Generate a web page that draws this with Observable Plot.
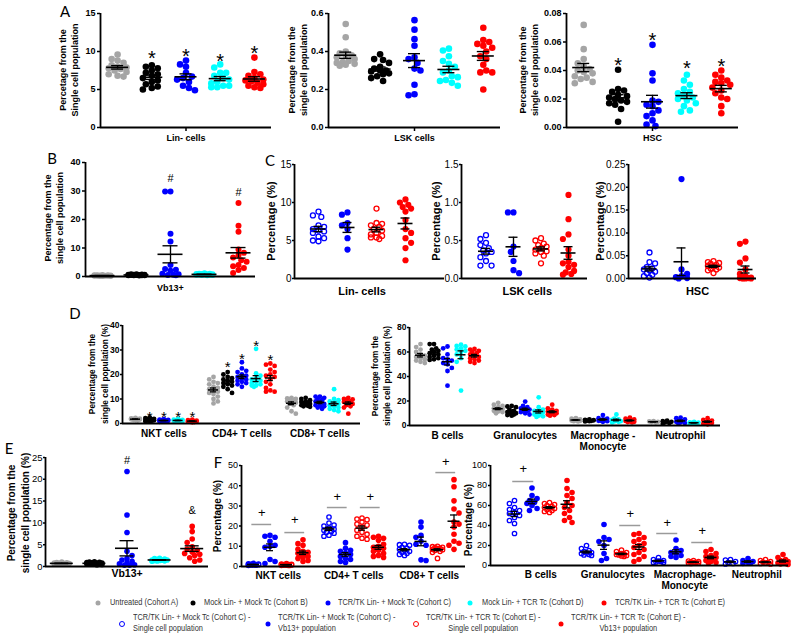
<!DOCTYPE html>
<html>
<head>
<meta charset="utf-8">
<script src="https://cdn.jsdelivr.net/npm/d3@7"></script>
<script src="https://cdn.jsdelivr.net/npm/@observablehq/plot@0.6"></script>
<style>
  html, body { margin: 0; padding: 0; background: #fff; }
  #page { position: relative; width: 800px; height: 634px; overflow: hidden; background: #fff; font-family: 'Liberation Sans', Arial, sans-serif; }
  .letter { position: absolute; font: 15px Lato, 'Open Sans', sans-serif; transform: translate(-50%, -50%); }
  .vlab { position: absolute; transform: translate(-50%, -50%) rotate(-90deg); white-space: pre; text-align: center; font-weight: bold; font-family: 'Liberation Sans', Arial, sans-serif; }
  .leg { position: absolute; font-family: 'Liberation Sans', Arial, sans-serif; font-size: 8.5px; white-space: pre; line-height: 11px; color: #333; transform: scaleX(0.87); transform-origin: 0 0; }
  .mk { position: absolute; width: 5px; height: 5px; border-radius: 50%; transform: translate(-50%, -50%); box-sizing: border-box; }
</style>
</head>
<body>
<div id="page"></div>
<script>
// ---------- legend / categories ----------
const cohortNames = ["Untreated (Cohort A)", "Mock Lin- + Mock Tc (Cohort B)", "TCR/TK Lin- + Mock Tc (Cohort C)", "Mock Lin- + TCR Tc (Cohort D)", "TCR/TK Lin- + TCR Tc (Cohort E)"];
const cohortColors = ["#a5a5a5", "#000000", "#0000ff", "#00ffff", "#ff0000"];
const subsetNames = ["TCR/TK Lin- + Mock Tc (Cohort C) -\nSingle cell population", "TCR/TK Lin- + Mock Tc (Cohort C) -\nVb13+ population", "TCR/TK Lin- + TCR Tc (Cohort E) -\nSingle cell population", "TCR/TK Lin- + TCR Tc (Cohort E) -\nVb13+ population"];
const subsetColors = ["#0000ff", "#0000ff", "#ff0000", "#ff0000"];
const subsetFilled = [false, true, false, true];

// ---------- Panel A ----------
const aLin = [
  [9.6, 9.0, 8.8, 8.5, 8.2, 8.0, 7.9, 7.8, 7.7, 7.5, 7.3, 7.0, 6.8, 6.7],
  [8.2, 8.0, 7.8, 7.5, 7.2, 7.0, 6.8, 6.5, 6.2, 6.0, 5.7, 5.4, 5.2, 5.0],
  [8.8, 8.3, 8.0, 7.2, 6.7, 6.5, 6.3, 6.0, 5.5, 5.2, 4.9],
  [8.3, 7.9, 7.2, 7.2, 6.8, 6.5, 6.3, 6.0, 5.8, 5.5, 5.3, 5.3, 5.5],
  [9.2, 7.3, 7.0, 6.8, 6.5, 6.3, 6.1, 5.9, 5.7, 5.5, 5.3, 5.2, 6.2]
];
const aLinStarY = [NaN, 9.7, 10.0, 9.3, 10.35];
const aLSK = [
  [0.545, 0.475, 0.40, 0.39, 0.38, 0.37, 0.36, 0.35, 0.345, 0.34, 0.335, 0.33, 0.325, 0.38],
  [0.385, 0.36, 0.355, 0.34, 0.32, 0.31, 0.30, 0.295, 0.285, 0.28, 0.27, 0.26, 0.245, 0.30],
  [0.565, 0.515, 0.465, 0.43, 0.37, 0.36, 0.34, 0.31, 0.30, 0.225, 0.175, 0.17],
  [0.415, 0.405, 0.375, 0.35, 0.335, 0.32, 0.30, 0.29, 0.27, 0.265, 0.25, 0.245, 0.235, 0.22],
  [0.525, 0.46, 0.45, 0.44, 0.43, 0.42, 0.40, 0.375, 0.36, 0.33, 0.30, 0.29, 0.29, 0.20]
];
const aHSC = [
  [0.072, 0.055, 0.048, 0.045, 0.043, 0.041, 0.040, 0.039, 0.038, 0.036, 0.035, 0.034, 0.032, 0.031],
  [0.0405, 0.027, 0.026, 0.025, 0.023, 0.022, 0.021, 0.020, 0.019, 0.018, 0.017, 0.016, 0.013, 0.004],
  [0.058, 0.038, 0.033, 0.019, 0.018, 0.016, 0.015, 0.012, 0.010, 0.008, 0.005, 0.002, 0.001],
  [0.037, 0.033, 0.030, 0.027, 0.025, 0.024, 0.022, 0.021, 0.020, 0.019, 0.017, 0.015, 0.012, 0.011],
  [0.040, 0.037, 0.035, 0.033, 0.032, 0.031, 0.030, 0.028, 0.026, 0.024, 0.021, 0.020, 0.015, 0.010]
];
const aHSCStarY = [NaN, 0.047, 0.0646, 0.0447, 0.0465];

// ---------- Panel B ----------
const bVb = [
  [0.5, 0.45, 0.4, 0.4, 0.35, 0.35, 0.3, 0.3, 0.3, 0.25, 0.25, 0.2, 0.2, 0.15],
  [0.8, 0.75, 0.7, 0.65, 0.6, 0.6, 0.55, 0.5, 0.5, 0.45, 0.45, 0.4, 0.4, 0.35],
  [29.8, 29.8, 15, 12.3, 4, 2.6, 2.4, 2.0, 1.0, 0.8, 0.6, 0.5, 0.4],
  [1.1, 1.0, 0.95, 0.9, 0.85, 0.8, 0.75, 0.7, 0.7, 0.65, 0.6, 0.55, 0.5, 0.45],
  [25.8, 17.8, 15.7, 9.5, 8.3, 7.5, 6.7, 5.7, 5.2, 4.0, 3.6, 3.0, 2.3, 1.2]
];
const bHashY = [NaN, NaN, 34.3, NaN, 29.6];

// ---------- Panel C ----------
const cLin = [
  [8.8, 8.3, 8.1, 7.0, 6.8, 6.5, 6.3, 6.2, 6.0, 5.5, 5.3, 5.0, 4.9],
  [8.7, 8.4, 7.3, 7.0, 6.5, 5.3, 3.8],
  [9.2, 7.3, 7.2, 7.0, 6.8, 6.5, 6.3, 6.0, 5.8, 5.6, 5.4, 5.2, 5.4],
  [10.4, 10.0, 9.7, 9.4, 9.2, 8.8, 7.7, 6.5, 6.0, 5.3, 4.7, 4.0, 2.4]
];
const cLSK = [
  [0.57, 0.52, 0.47, 0.44, 0.40, 0.37, 0.35, 0.33, 0.28, 0.23, 0.17, 0.17],
  [0.87, 0.87, 0.42, 0.35, 0.23, 0.11, 0.07],
  [0.53, 0.50, 0.46, 0.44, 0.42, 0.40, 0.38, 0.36, 0.35, 0.33, 0.30, 0.20],
  [1.10, 0.78, 0.58, 0.52, 0.38, 0.30, 0.22, 0.20, 0.18, 0.15, 0.10, 0.08, 0.06, 0.05]
];
const cHSC = [
  [0.057, 0.036, 0.033, 0.025, 0.022, 0.020, 0.018, 0.015, 0.012, 0.008, 0.005, 0.002],
  [0.218, 0.020, 0.010, 0.005, 0.003, 0.001, 0.000],
  [0.038, 0.036, 0.034, 0.032, 0.030, 0.028, 0.026, 0.024, 0.022, 0.020, 0.018, 0.012],
  [0.081, 0.076, 0.044, 0.035, 0.020, 0.010, 0.005, 0.002, 0.001, 0.001, 0.001, 0.000, 0.000, 0.000]
];

// ---------- Panel D ----------
const dNKT = [
  [2.3, 2.1, 2.0, 1.9, 1.8, 1.8, 1.7, 1.6, 1.5, 1.4, 1.3],
  [2.5, 2.2, 1.9, 1.7, 1.6, 1.5, 1.4, 1.3, 1.2, 1.1, 1.0, 0.8],
  [1.8, 1.6, 1.5, 1.4, 1.3, 1.2, 1.2, 1.1, 1.0, 0.9, 0.8, 0.7],
  [1.9, 1.6, 1.5, 1.4, 1.3, 1.2, 1.1, 1.0, 1.0, 0.9, 0.8],
  [1.6, 1.4, 1.2, 1.1, 1.0, 0.9, 0.9, 0.8, 0.7, 0.6, 0.5]
];
const dCD4 = [
  [19, 18, 17, 16.5, 16, 15, 14.5, 14, 13.5, 13, 12.5, 12, 11, 10, 9, 8.2],
  [21, 20, 19, 18.5, 18, 17.5, 17, 16.5, 16, 15.5, 15, 14, 12.5],
  [25, 22.5, 21.5, 21, 20, 19.5, 19, 18.5, 18, 17.5, 17, 16.5, 16, 15],
  [30.5, 20.5, 19.5, 18.5, 18, 17.5, 17, 16.5, 16, 15.5, 15.5, 15],
  [24.5, 24, 23.5, 22, 21, 20, 19.5, 19, 18, 17, 16, 14.5, 13.5, 13, 13]
];
const dCD8 = [
  [10.5, 10.2, 10, 9.8, 9.5, 9, 8.8, 8.5, 8, 7.5, 6.5, 5, 4],
  [10.5, 10, 9.5, 9, 8.8, 8.5, 8.3, 8, 7.8, 7.5, 7.2, 7, 6.8],
  [11, 11, 10.5, 10, 9.5, 9, 8.5, 8, 7.5, 7.2, 7, 6.5, 6],
  [14, 10, 9.5, 9, 8.5, 8, 7.5, 7, 6.5, 6, 5.5, 5],
  [10.5, 10, 9.8, 9.5, 9, 8.8, 8.5, 8, 7.5, 7, 6.5, 4]
];
const dNKTStarY = [NaN, 4, 4, 4, 4];
const dCD4StarY = [NaN, 24.5, 27.9, 33, 27.3];
const dB = [
  [66.5, 64, 62, 60, 58, 57, 56, 55, 54, 53, 52, 51],
  [66.5, 66.5, 63, 62, 61, 60, 59, 58, 57, 56, 55, 54, 53.5],
  [64.5, 63, 58, 55, 54, 53, 51, 50, 47, 44.5, 32.5],
  [66, 65, 64.5, 63, 62, 61, 60, 58, 55, 52, 28.5],
  [62.5, 62, 61, 60, 59, 58, 57, 56, 55, 54, 53, 52, 51]
];
const dGran = [
  [18.5, 17, 16, 15, 14, 13.5, 13, 12.5, 12, 11.5, 11, 10],
  [16, 15.5, 15, 13, 12, 11, 10.5, 10, 9.5, 9, 8.5, 8],
  [19.5, 16, 15, 14, 13.5, 13, 12.5, 12, 11, 10, 9],
  [23, 15, 13, 12, 11.5, 11, 10.5, 10, 9, 8, 7.5, 7],
  [17, 14, 13, 12, 11.5, 11, 10.5, 10, 9.5, 9, 8.5, 8]
];
const dMac = [
  [6, 5.5, 5, 4.8, 4.5, 4.3, 4, 3.8, 3.5, 3.3],
  [5, 4.6, 4.3, 4, 3.8, 3.5, 3.3],
  [8.5, 6, 5.5, 5, 4.5, 4, 3.8, 3.5, 3],
  [9, 5.5, 5, 4.5, 4, 3.5, 3.3, 3, 2.5],
  [6.5, 5.5, 5, 4.5, 4, 3.7, 3.4, 3, 2.8, 2.5]
];
const dNeut = [
  [3.5, 3.3, 3, 2.8, 2.6],
  [4, 3.5, 3, 2.5, 2, 1.5],
  [6.5, 6, 5, 4, 3.5, 3, 2.5, 2, 1.5],
  [3, 2.6, 2.4, 2.2, 2, 1.8, 1.5],
  [6, 4.5, 4, 3.5, 3, 2.5, 2, 1.5, 1]
];

// ---------- Panel E ----------
const eVb = [
  [1.0, 0.9, 0.85, 0.8, 0.75, 0.7, 0.7, 0.65, 0.6, 0.6, 0.55, 0.5],
  [1.1, 1.0, 0.95, 0.9, 0.85, 0.8, 0.75, 0.7, 0.65, 0.6, 0.55, 0.5, 0.45, 0.4],
  [21.8, 11.8, 7.8, 3.5, 2.5, 1.8, 1.5, 1.2, 0.8, 0.6, 0.4, 0.3, 0.3],
  [1.9, 1.8, 1.7, 1.6, 1.5, 1.5, 1.45, 1.4, 1.35, 1.3, 1.25, 1.2],
  [9.2, 8.0, 6.3, 5.5, 4.5, 4.0, 3.7, 3.3, 3.0, 2.8, 2.5, 2.0, 1.5, 1.2]
];
const eMarkY = [NaN, NaN, 24.3, NaN, 12.8];
const eMarkText = ["", "", "#", "", "&"];

// ---------- Panel F ----------
const fNKT = [
  [1.5, 1.3, 1.2, 1.1, 1.0, 1.0, 0.9, 0.9, 0.8, 0.8, 0.7, 0.6],
  [15.5, 15.0, 14.5, 12.5, 10.5, 10.0, 9.5, 3.5, 2.5, 1.5],
  [1.4, 1.2, 1.1, 1.0, 1.0, 0.9, 0.9, 0.8, 0.8, 0.7, 0.7, 0.6, 0.5],
  [13.2, 11.3, 10.5, 8.5, 7.5, 7, 6.5, 6, 5.5, 5, 4.5, 4, 3, 2.5]
];
const fCD4 = [
  [24.5, 21.5, 20.5, 20, 19, 18.5, 18, 17.5, 17, 16.5, 15.5, 15],
  [11.8, 9, 8, 7.5, 6.5, 6, 5, 4, 3.5, 2.5, 2],
  [24, 23.5, 23.2, 22, 21, 20.5, 19.5, 18, 17, 16, 15, 14, 13.5],
  [15, 14.5, 14, 13, 11, 10, 9.5, 9, 8, 7.5, 6.5, 5.5, 5, 4.5]
];
const fCD8 = [
  [11, 10.8, 10.5, 9.5, 9, 8.5, 8, 7.5, 7, 6.5, 6, 5.5],
  [22, 19.5, 15.5, 14.5, 12.5, 11, 10.5, 3.3, 3],
  [10, 9.8, 9.5, 9.3, 9, 8.8, 8.5, 8.3, 8, 7.5, 7, 4],
  [43, 39.5, 32.5, 28.5, 26.5, 22, 21, 19.5, 16, 12.5, 11.5, 10.5, 8.5]
];
const fB = [
  [65, 62, 58, 56, 55, 53, 52, 50, 48, 45, 42, 32],
  [77.5, 70, 67, 65, 63, 62, 60, 57, 55],
  [63, 62, 61, 60, 59, 58, 57.5, 57, 56, 55, 54, 53],
  [85, 77, 73, 70, 67, 63, 60, 58, 55, 52, 48, 45, 43]
];
const fGran = [
  [20, 17, 15, 14, 13, 12.5, 12, 11, 10.5, 10],
  [41, 28, 26, 24, 20, 12, 7, 5],
  [15.5, 14, 13, 12, 11.5, 11, 10.5, 10, 9.5, 9],
  [32, 31, 28, 26, 24, 22, 20, 18, 16, 13, 11, 9, 6, 4]
];
const fMac = [
  [8, 6, 5, 4.5, 4, 3.5, 3, 3],
  [25.5, 17, 15, 13, 12, 10, 9, 8],
  [5, 4.5, 4, 3.5, 3, 3, 2.5, 2.5, 2],
  [16, 14, 12, 10, 9, 8, 7, 6, 5, 4, 3, 2.5]
];
const fNeut = [
  [6, 5.5, 4, 3, 2, 1.5],
  [7, 5, 4, 3, 2.5, 2],
  [6, 5, 4, 3.5, 3, 2.5, 2, 1.5],
  [11, 8, 6, 5, 4, 3, 2.5, 2, 1.5, 1]
];
// significance bars (category index, first group, bar value, "+" value)
const f1SigCat = [0, 0, 1, 1, 2];
const f1SigGroup = [0, 2, 0, 2, 2];
const f1SigLineY = [20.8, 16.8, 29.2, 29.2, 46.5];
const f1SigPlusY = [26.7, 23.3, 34.7, 34.7, 52];
const f2SigCat = [0, 1, 2, 2];
const f2SigGroup = [0, 2, 0, 2];
const f2SigLineY = [84, 40, 32, 23];
const f2SigPlusY = [97, 52, 43, 35];

// ---------- helpers ----------
const page = document.getElementById("page");

function swarm(vals, pxY, r, maxOff) {
  const idx = d3.range(vals.length).sort((a, b) => vals[b] - vals[a]);
  const placed = [], off = new Array(vals.length);
  const step = r * 0.9, minD = r * 1.8;
  let flip = 1;
  for (const i of idx) {
    const py = vals[i] * pxY;
    const cands = [0];
    for (let k = 1; k * step <= maxOff + 1e-9; k++) cands.push(flip * k * step, -flip * k * step);
    flip = -flip;
    let best = 0, bestD = -1;
    for (const c of cands) {
      let dmin = Infinity;
      for (const p of placed) { const dd = Math.hypot(p[0] - c, p[1] - py); if (dd < dmin) dmin = dd; }
      if (dmin >= minD) { best = c; break; }
      if (dmin > bestD) { bestD = dmin; best = c; }
    }
    off[i] = best;
    placed.push([best, py]);
  }
  return off;
}

function panel(cfg) {
  const mL = 44, mR = 8, mT = 16, mB = 36;
  const {L, R, T, B} = cfg;
  const width = R - L + mL + mR, height = B - T + mT + mB;
  const gs = cfg.gs, K = (cfg.cs || 0) / gs;
  const ng = cfg.data[0].length;
  const pxY = (B - T) / cfg.ymax;
  const filled = cfg.filled || cfg.colors.map(() => true);
  const pts = [], stats = [];
  cfg.data.forEach((groups, ci) => groups.forEach((vals, gi) => {
    const xc = ci * K + gi;
    const off = swarm(vals, pxY, cfg.r, cfg.maxOff);
    vals.forEach((v, i) => pts.push({x: xc + off[i] / gs, y: v, g: gi, c: cfg.colors[gi]}));
    const m = d3.mean(vals), se = d3.deviation(vals) / Math.sqrt(vals.length);
    stats.push({x: xc, m, lo: m - se, hi: m + se});
  }));
  const catX = cfg.cats.map((c, ci) => ci * K + (ng - 1) / 2);
  const catName = new Map(catX.map((x, i) => [x, cfg.cats[i]]));
  const x0 = (L - cfg.p0) / gs, x1 = (R - cfg.p0) / gs;
  const hw = cfg.meanW / 2 / gs, hc = cfg.capW / 2 / gs;
  const texts = (cfg.texts || []).map(t => ({x: t.ci * K + t.g, y: t.y, t: t.t}));
  const sigs = (cfg.sigs || []).map(s => ({x1: s.ci * K + s.g - 0.1, x2: s.ci * K + s.g + 1.1, y: s.y, py: s.py, xm: s.ci * K + s.g + 0.5}));
  const lw = cfg.lineW || 1.6;
  const svg = Plot.plot({
    width, height,
    marginLeft: mL, marginRight: mR, marginTop: mT, marginBottom: mB,
    x: {domain: [x0, x1]},
    y: {domain: [0, cfg.ymax]},
    color: {type: "identity"},
    style: {overflow: "visible", fontFamily: "'Liberation Sans', Arial, sans-serif", fontWeight: "bold", background: "transparent", color: "#000"},
    marks: [
      Plot.dot(pts.filter(d => filled[d.g]), {x: "x", y: "y", r: cfg.r, fill: "c"}),
      Plot.dot(pts.filter(d => !filled[d.g]), {x: "x", y: "y", r: cfg.r - 0.6, stroke: "c", strokeWidth: 1.3, fill: "none"}),
      Plot.ruleY(stats, {y: "m", x1: d => d.x - hw, x2: d => d.x + hw, strokeWidth: lw}),
      Plot.ruleX(stats, {x: "x", y1: "lo", y2: "hi", strokeWidth: lw * 0.85}),
      Plot.ruleY(stats, {y: "lo", x1: d => d.x - hc, x2: d => d.x + hc, strokeWidth: lw * 0.85}),
      Plot.ruleY(stats, {y: "hi", x1: d => d.x - hc, x2: d => d.x + hc, strokeWidth: lw * 0.85}),
      Plot.ruleY(sigs, {y: "y", x1: "x1", x2: "x2", stroke: "#9a9a9a", strokeWidth: 1.5}),
      Plot.text(sigs, {x: "xm", y: "py", text: () => "+", fill: "#000", fontSize: cfg.sigFS || 13, fontWeight: "normal"}),
      Plot.text(texts, {x: "x", y: "y", text: "t", fill: "#000", fontSize: cfg.textFS || 12, fontWeight: "normal", dy: cfg.textDy || 0}),
      Plot.ruleX([x0], {strokeWidth: 1.8}),
      Plot.ruleY([0], {strokeWidth: 1.8}),
      Plot.axisY({ticks: cfg.yticks, tickFormat: cfg.yfmt, tickSize: cfg.tS, tickPadding: cfg.tP, strokeWidth: 1.5, fontSize: cfg.tickFS, fontWeight: cfg.tickFW || "bold"}),
      Plot.axisX({ticks: catX, tickFormat: x => catName.get(x), tickSize: cfg.xTick ? 4 : 0, tickPadding: cfg.catPad, strokeWidth: 1.5, fontSize: cfg.catFS, fontWeight: "bold", lineHeight: 1.1})
    ]
  });
  svg.style.position = "absolute";
  svg.style.left = (L - mL) + "px";
  svg.style.top = (T - mT) + "px";
  page.appendChild(svg);
}

function vlabel(text, cx, cy, fs, lh) {
  const d = document.createElement("div");
  d.className = "vlab";
  d.style.left = cx + "px"; d.style.top = cy + "px";
  d.style.fontSize = fs + "px"; d.style.lineHeight = lh + "px";
  d.textContent = text;
  page.appendChild(d);
}
function letter(t, x, y) {
  const d = document.createElement("div");
  d.className = "letter"; d.textContent = t;
  d.style.left = x + "px"; d.style.top = y + "px";
  page.appendChild(d);
}
const starTexts = (ys, t, ci = 0) => ys.map((y, g) => ({ci, g, y, t})).filter(d => !isNaN(d.y));
const sigList = (cats, groups, ly, py) => cats.map((ci, i) => ({ci, g: groups[i], y: ly[i], py: py[i]}));

// ---------- A ----------
const cfgA = {T: 13, B: 127, r: 3.3, maxOff: 10, meanW: 22, capW: 12, tickFS: 9, tS: 3, tP: 2, catFS: 9, catPad: 2, xTick: true, colors: cohortColors, textFS: 20, textDy: 5};
panel({...cfgA, L: 100, R: 271, ymax: 15, yticks: [0, 5, 10, 15], p0: 117.1, gs: 34.2, cats: ["Lin- cells"], data: [aLin], texts: starTexts(aLinStarY, "*")});
panel({...cfgA, L: 328, R: 500, ymax: 0.6, yticks: [0, 0.2, 0.4, 0.6], yfmt: d3.format(".1f"), p0: 345.2, gs: 34.4, cats: ["LSK cells"], data: [aLSK]});
panel({...cfgA, L: 566, R: 738, ymax: 0.08, yticks: [0, 0.02, 0.04, 0.06, 0.08], yfmt: d3.format(".2f"), p0: 583.2, gs: 34.4, cats: ["HSC"], data: [aHSC], texts: starTexts(aHSCStarY, "*")});
vlabel("Percetage from the\nSingle cell population", 69, 70, 9, 12);
vlabel("Percentage from the\nsingle cell population", 297.5, 70, 9, 12);
vlabel("Percentage from the\nsingle cell population", 529, 70, 9, 12);
letter("A", 65, 11);

// ---------- B ----------
panel({T: 162, B: 276, L: 85, R: 255, ymax: 40, yticks: [0, 10, 20, 30, 40], p0: 102, gs: 34, r: 3, maxOff: 10, meanW: 25, capW: 15, tickFS: 9, tS: 3, tP: 2, catFS: 9, catPad: 7, colors: cohortColors, cats: ["Vb13+"], data: [bVb], texts: starTexts(bHashY, "#"), textFS: 11});
vlabel("Percentage from the\nsingle cell population", 54, 218, 9, 12);
letter("B", 52, 158);

// ---------- C ----------
const cfgC = {T: 164, B: 278, r: 3.1, maxOff: 7, meanW: 15, capW: 9, tickFS: 10, tickFW: "normal", tS: 2, tP: 1, catFS: 11, catPad: 8, colors: subsetColors, filled: subsetFilled};
panel({...cfgC, L: 294, R: 444, ymax: 15, yticks: [0, 5, 10, 15], p0: 318, gs: 29, cats: ["Lin- cells"], data: [cLin]});
panel({...cfgC, L: 461, R: 587, ymax: 1.5, yticks: [0, 0.5, 1, 1.5], yfmt: d3.format(".1f"), p0: 485.5, gs: 27.5, cats: ["LSK cells"], data: [cLSK]});
panel({...cfgC, L: 628, R: 756, ymax: 0.25, yticks: [0, 0.05, 0.1, 0.15, 0.2, 0.25], yfmt: d3.format(".2f"), p0: 649, gs: 32, cats: ["HSC"], data: [cHSC]});
vlabel("Percentage (%)", 271, 221, 11, 13);
vlabel("Percentage (%)", 436, 221, 11, 13);
vlabel("Percentage (%)", 600, 221, 11, 13);
letter("C", 270, 160);

// ---------- D ----------
const cfgD = {r: 2.4, maxOff: 5, meanW: 10, capW: 6, tickFS: 8.5, tS: 2, tP: 1, catFS: 10, catPad: 6, colors: cohortColors, textFS: 15, textDy: 3.8, lineW: 1.5};
panel({...cfgD, L: 122, R: 360, T: 325, B: 423, ymax: 40, yticks: [0, 10, 20, 30, 40], p0: 135, gs: 14.2, cs: 78,
  cats: ["NKT cells", "CD4+ T cells", "CD8+ T cells"], data: [dNKT, dCD4, dCD8],
  texts: [...starTexts(dNKTStarY, "*", 0), ...starTexts(dCD4StarY, "*", 1)]});
panel({...cfgD, L: 409, R: 720, T: 327, B: 425, ymax: 80, yticks: [0, 20, 40, 60, 80], p0: 420, gs: 13.5, cs: 77.7,
  cats: ["B cells", "Granulocytes", "Macrophage -\nMonocyte", "Neutrophil"], data: [dB, dGran, dMac, dNeut]});
vlabel("Percentage from the\nsingle cell population (%)", 99, 374, 8.3, 13);
vlabel("Percentage from the\nsingle cell population (%)", 381, 376, 8.3, 12);
letter("D", 75, 313);

// ---------- E ----------
panel({L: 45, R: 208, T: 457, B: 566, ymax: 25, yticks: [0, 5, 10, 15, 20, 25], p0: 61.3, gs: 32.6, r: 2.8, maxOff: 9, meanW: 23, capW: 14, tickFS: 9.5, tickFW: "normal", tS: 2, tP: 1, catFS: 10.5, catPad: 2, colors: cohortColors, cats: ["Vb13+"], data: [eVb],
  texts: eMarkY.map((y, g) => ({ci: 0, g, y, t: eMarkText[g]})).filter(d => !isNaN(d.y)), textFS: 11});
vlabel("Percentage from the\nsingle cell population (%)", 19, 513, 10, 14);
letter("E", 9, 448);

// ---------- F ----------
const cfgF = {T: 465, r: 2.8, maxOff: 6, meanW: 12, capW: 7, tickFS: 9, tickFW: "normal", tS: 2, tP: 1.5, catFS: 10, catPad: 5, colors: subsetColors, filled: subsetFilled, sigFS: 13, lineW: 1.5};
panel({...cfgF, L: 241, R: 465, B: 566, ymax: 50, yticks: [0, 10, 20, 30, 40, 50], p0: 253, gs: 16.5, cs: 75.5,
  cats: ["NKT cells", "CD4+ T cells", "CD8+ T cells"], data: [fNKT, fCD4, fCD8],
  sigs: sigList(f1SigCat, f1SigGroup, f1SigLineY, f1SigPlusY)});
panel({...cfgF, L: 490, R: 788, B: 565, ymax: 100, yticks: [0, 20, 40, 60, 80, 100], p0: 514, gs: 17.5, cs: 72,
  cats: ["B cells", "Granulocytes", "Macrophage-\nMonocyte", "Neutrophil"], data: [fB, fGran, fMac, fNeut],
  sigs: sigList(f2SigCat, f2SigGroup, f2SigLineY, f2SigPlusY)});
vlabel("Percentage (%)", 218, 516, 10, 12);
vlabel("Percentage (%)", 469, 520, 10, 12);
letter("F", 218, 462);

// ---------- legend ----------
const row1MarkX = [98, 193, 328, 470, 604];
const row1TextX = [110, 204, 338, 482, 615];
cohortNames.forEach((name, i) => {
  const m = document.createElement("div");
  m.className = "mk";
  m.style.left = row1MarkX[i] + "px"; m.style.top = "603px"; m.style.background = cohortColors[i];
  page.appendChild(m);
  const t = document.createElement("div");
  t.className = "leg"; t.textContent = name;
  t.style.left = row1TextX[i] + "px"; t.style.top = "597px";
  page.appendChild(t);
});
const row2MarkX = [122, 268, 416, 561];
const row2TextX = [133, 278, 426, 571];
const row2Align = ["left", "left", "center", "center"];
subsetNames.forEach((name, i) => {
  const m = document.createElement("div");
  m.className = "mk";
  m.style.left = row2MarkX[i] + "px"; m.style.top = "624px";
  if (subsetFilled[i]) m.style.background = subsetColors[i];
  else { m.style.border = "1.3px solid " + subsetColors[i]; m.style.width = "6px"; m.style.height = "6px"; }
  page.appendChild(m);
  const t = document.createElement("div");
  t.className = "leg"; t.textContent = name;
  t.style.left = row2TextX[i] + "px"; t.style.top = "612px"; t.style.textAlign = row2Align[i];
  page.appendChild(t);
});
</script>
</body>
</html>
